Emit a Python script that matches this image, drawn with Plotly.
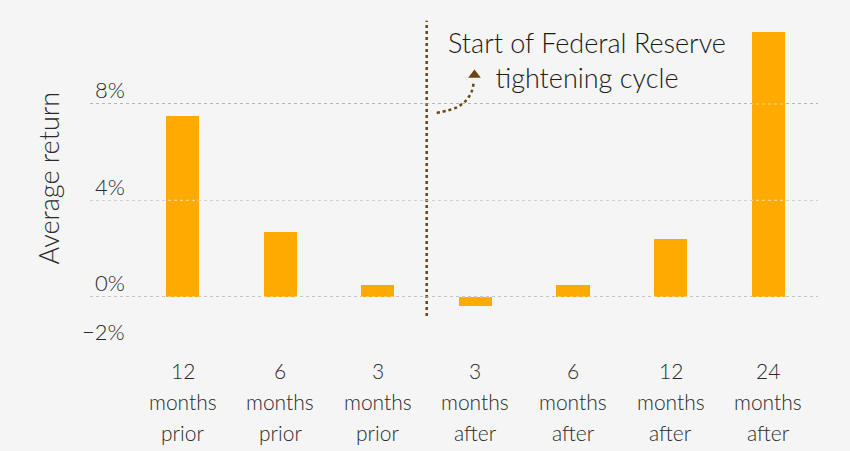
import plotly.graph_objects as go

categories = ["12 months prior", "6 months prior", "3 months prior",
              "3 months after", "6 months after", "12 months after", "24 months after"]
cat_lines = [["12", "months", "prior"], ["6", "months", "prior"], ["3", "months", "prior"],
             ["3", "months", "after"], ["6", "months", "after"], ["12", "months", "after"],
             ["24", "months", "after"]]
avg_return = [7.5, 2.7, 0.5, -0.4, 0.5, 2.4, 11.0]
tick_vals = [8, 4, 0, -2]
tick_text = ["8%", "4%", "0%", "\u22122%"]

FONT = "Lato"
BAR = "#FFAA00"
BROWN = "#6B4513"
BG = "#F5F5F5"
TXT = "#2a2a2a"

xpos = list(range(len(categories)))

fig = go.Figure()
fig.add_trace(go.Bar(x=xpos, y=avg_return, width=0.34, marker=dict(color=BAR, line=dict(width=0)),
                     hoverinfo="skip"))

# divider between prior and after (start of tightening)
split = 2.5
fig.add_trace(go.Scatter(x=[split, split], y=[-0.8, 11.45], mode="lines",
                         line=dict(color=BROWN, width=2.5, dash="dot"), hoverinfo="skip"))
# curved dotted arrow
cx = [2.603, 2.705, 2.818, 2.90, 2.96, 2.98]
cy = [7.63, 7.72, 7.88, 8.13, 8.51, 8.84]
fig.add_trace(go.Scatter(x=cx, y=cy, mode="lines", line=dict(color=BROWN, width=2.5, dash="dot", shape="spline"),
                         hoverinfo="skip"))
fig.add_trace(go.Scatter(x=[2.99], y=[9.2], mode="markers",
                         marker=dict(symbol="triangle-up", size=11, color=BROWN), hoverinfo="skip"))

# light overlay of gridlines over bars
for v in tick_vals:
    fig.add_shape(type="line", xref="paper", x0=0, x1=1, yref="y", y0=v, y1=v,
                  line=dict(color="rgba(255,255,255,0.55)", width=1.2, dash="dot"), layer="above")

annotations = []
for v, t in zip(tick_vals, tick_text):
    annotations.append(dict(xref="paper", x=0, yref="y", y=v, text=t, showarrow=False,
                            xanchor="right", yanchor="middle", xshift=37, yshift=14,
                            font=dict(family=FONT, size=22, color=TXT, weight=300)))
for i, lines in enumerate(cat_lines):
    for j, ln in enumerate(lines):
        annotations.append(dict(xref="x", x=xpos[i], yref="paper", y=0, text=ln, showarrow=False,
                                xanchor="center", yanchor="middle", yshift=-25 - 31 * j,
                                font=dict(family=FONT, size=21, color=TXT, weight=300)))
annotations.append(dict(xref="paper", x=0, yref="paper", y=0.5, text="Average return", showarrow=False,
                        textangle=-90, xanchor="center", yanchor="middle", xshift=-42, yshift=-1,
                        font=dict(family=FONT, size=27, color=TXT, weight=300)))
annotations.append(dict(xref="x", x=4.14, yref="paper", y=1, text="Start of Federal Reserve<br>tightening cycle",
                        showarrow=False, xanchor="center", yanchor="top", yshift=-14,
                        font=dict(family=FONT, size=27, color="#1a1a1a", weight=300)))

fig.update_layout(
    width=850, height=451,
    margin=dict(l=90, r=32, t=10, b=106),
    paper_bgcolor=BG, plot_bgcolor=BG,
    showlegend=False,
    xaxis=dict(range=[-0.95, 6.51], showticklabels=False, showgrid=False, zeroline=False,
               showline=False, ticks="", fixedrange=True),
    yaxis=dict(range=[-2, 11.9], tickvals=tick_vals, showticklabels=False, showgrid=True,
               gridcolor="#9a9a9a", griddash="dot", gridwidth=1.2, zeroline=False,
               showline=False, ticks="", fixedrange=True),
    annotations=annotations,
    bargap=0,
)
fig.write_html("out.html")
